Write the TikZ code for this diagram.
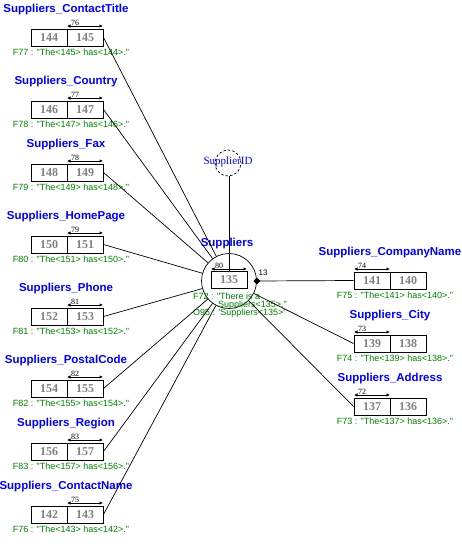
\documentclass[tikz,border=0pt]{standalone}
\usepackage{fontspec}
\setmainfont{Liberation Serif}
\newfontfamily\sansf{Liberation Sans}[Ligatures=TeXOff]
\usetikzlibrary{arrows.meta,shapes.geometric}
\definecolor{tblue}{RGB}{0,0,255}
\definecolor{tgreen}{RGB}{0,128,0}
\definecolor{tgray}{RGB}{128,128,128}
\tikzset{
 ttl/.style={font=\sansf\bfseries\fontsize{11.5}{12}\selectfont, text=tblue, inner sep=0},
 cell/.style={draw, line width=1pt, minimum width=36pt, minimum height=17pt, inner sep=0, font=\bfseries\fontsize{12}{12}\selectfont, text=tgray},
 dimn/.style={font=\fontsize{8}{8}\selectfont, inner sep=0},
 dima/.style={line width=0.7pt, {Latex[length=3.5pt,width=3.5pt]}-{Latex[length=3.5pt,width=3.5pt]}},
 ftxt/.style={font=\sansf\fontsize{9}{9}\selectfont, text=tgreen, inner sep=0},
 conn/.style={line width=0.7pt},
}
\newcommand\lent[7]{%
 \node[ttl] (#1t) at (66,#3-19.5) {Suppliers\_#2};
 \node[cell] (#1a) at (49,#3+8.5) {#4};
 \node[cell] (#1b) at (85,#3+8.5) {#5};
 \coordinate (#1p) at (67,#3-3);
 \coordinate (#1q) at (103,#3-3);
 \draw[dima] (#1p) -- (#1q);
 \node[dimn] (#1n) at (75,#3-6) {#6};
 \node[ftxt] (#1f) at (71,#3+23) {#7};
 \draw[conn] (#1b.east) -- (sup);
}
\newcommand\rent[7]{%
 \node[ttl] (#1t) at (390,#3-19.5) {Suppliers\_#2};
 \node[cell] (#1a) at (372,#3+8.5) {#4};
 \node[cell] (#1b) at (408,#3+8.5) {#5};
 \coordinate (#1p) at (354,#3-3);
 \coordinate (#1q) at (390,#3-3);
 \draw[dima] (#1p) -- (#1q);
 \node[dimn] (#1n) at (362,#3-6) {#6};
 \node[ftxt] (#1f) at (395,#3+23) {#7};
}
\begin{document}
\begin{tikzpicture}[x=1pt,y=-1pt]
\useasboundingbox (0,0) rectangle (461,546);
\node[draw, circle, minimum size=55pt, inner sep=0, line width=0.7pt] (sup) at (229,281) {};
\node[cell] (sbox) at (229,280) {135};
\coordinate (sp) at (211,269);
\coordinate (sq) at (247,269);
\draw[dima] (sp) -- (sq);
\node[dimn] (sn) at (219,266) {80};
\node[ttl] (supt) at (227,244) {Suppliers};
\node[diamond, fill, inner sep=0, minimum size=7pt] (dia) at (sup.east) {};
\node[font=\sansf\fontsize{8}{8}\selectfont, inner sep=0] (l13) at (263,273) {13};
\node[ftxt, anchor=west] (f72a) at (193,296) {F72 : "There is a};
\node[ftxt, anchor=west] (f72b) at (218,305) {Suppliers<135>."};
\node[ftxt, anchor=west] (o95) at (193,313) {O95 : 'Suppliers<135>'};
\node[draw, circle, minimum size=26pt, inner sep=0, line width=0.7pt, dash pattern=on 2.5pt off 2pt] (sid) at (228,163) {};
\node[font=\fontsize{11}{11}\selectfont, text=tblue, inner sep=0] (sidl) at (228,162) {SupplierID};
\draw[conn] (sbox.north) -- (sbox.north |- sid.south);
\lent{CT}{ContactTitle}{29}{144}{145}{76}{F77 : "The<145> has<144>."}
\lent{Co}{Country}{101}{146}{147}{77}{F78 : "The<147> has<146>."}
\lent{Fa}{Fax}{164}{148}{149}{78}{F79 : "The<149> has<148>."}
\lent{HP}{HomePage}{236}{150}{151}{79}{F80 : "The<151> has<150>."}
\lent{Ph}{Phone}{308}{152}{153}{81}{F81 : "The<153> has<152>."}
\lent{PC}{PostalCode}{380}{154}{155}{82}{F82 : "The<155> has<154>."}
\lent{Re}{Region}{443}{156}{157}{83}{F83 : "The<157> has<156>."}
\lent{CN}{ContactName}{506}{142}{143}{75}{F76 : "The<143> has<142>."}
\rent{CoN}{CompanyName}{272}{141}{140}{74}{F75 : "The<141> has<140>."}
\rent{Ci}{City}{335}{139}{138}{73}{F74 : "The<139> has<138>."}
\rent{Ad}{Address}{398}{137}{136}{72}{F73 : "The<137> has<136>."}
\draw[conn] (dia.center) -- (CoNa.west);
\draw[conn] (Cia.west) -- (sup);
\draw[conn] (Ada.west) -- (sup);
\end{tikzpicture}
\end{document}
